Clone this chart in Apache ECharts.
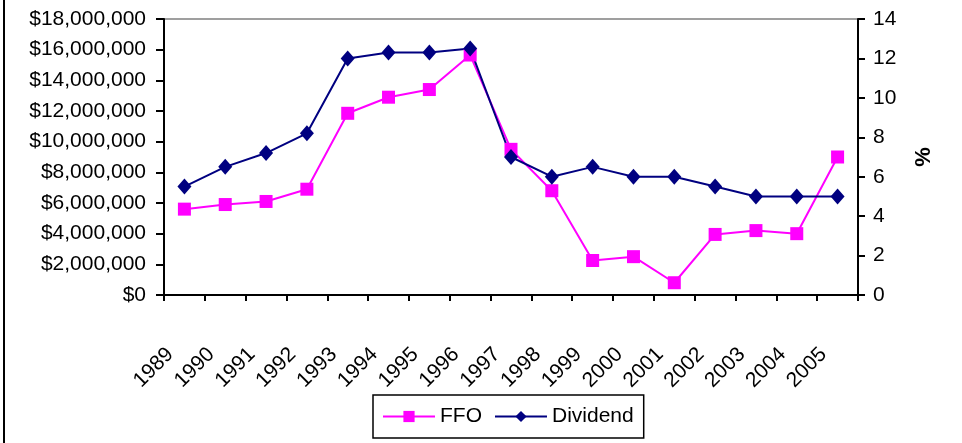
<!DOCTYPE html>
<html>
<head>
  <meta charset="utf-8">
  <title>FFO and Dividend</title>
  <script src="https://cdn.jsdelivr.net/npm/echarts@6/dist/echarts.min.js"></script>
  <style>
    html, body { margin: 0; padding: 0; background: #fff; }
    #wrap { position: relative; width: 962px; height: 443px; }
    #chart { width: 962px; height: 443px; }
    /* chart area frame, only the left edge shows in the picture */
    #frame { position: absolute; left: 3px; top: 0; width: 0; height: 443px; border-left: 2px solid #000; }
  </style>
</head>
<body>
<div id="wrap">
  <div id="chart"></div>
  <div id="frame"></div>
</div>
<script type="text/javascript">
// years on the x axis
var years = ['1989','1990','1991','1992','1993','1994','1995','1996','1997',
             '1998','1999','2000','2001','2002','2003','2004','2005'];
// FFO, dollars (left axis)
var ffo = [5600000, 5900000, 6100000, 6900000, 11850000, 12900000, 13400000, 15650000, 9500000,
           6800000, 2250000, 2500000, 800000, 3950000, 4200000, 4000000, 9000000];
// Dividend, percent (right axis)
var dividend = [5.5, 6.5, 7.2, 8.2, 12, 12.3, 12.3, 12.5, 7,
                6, 6.5, 6, 6, 5.5, 5, 5, 5];

var FONT = 'Liberation Sans, Arial, sans-serif';

var chart = echarts.init(document.getElementById('chart'));

function money(v) {
  return '$' + String(v).replace(/\B(?=(\d{3})+(?!\d))/g, ',');
}

var option = {
  animation: false,
  backgroundColor: '#fff',
  textStyle: { fontFamily: FONT, color: '#000' },
  grid: {
    left: 164, right: 104, top: 19, bottom: 148,
    show: true, borderColor: '#808080', borderWidth: 1.5
  },
  legend: {
    data: ['FFO', 'Dividend'],
    left: 373, top: 395,
    padding: [11, 10, 11, 9],
    itemWidth: 52, itemHeight: 14, itemGap: 12,
    borderColor: '#000', borderWidth: 1.5,
    textStyle: { fontFamily: FONT, fontSize: 21, color: '#000' }
  },
  xAxis: {
    type: 'category',
    data: years,
    boundaryGap: true,
    axisLine: { lineStyle: { color: '#000', width: 2 } },
    axisTick: { show: true, length: 6, lineStyle: { color: '#000', width: 2 } },
    axisLabel: {
      rotate: 45, margin: 42, padding: [0, 20, 0, 0],
      fontFamily: FONT, fontSize: 21, color: '#000', interval: 0
    }
  },
  yAxis: [{
    type: 'value',
    min: 0, max: 18000000, interval: 2000000,
    axisLine: { show: true, lineStyle: { color: '#000', width: 2 } },
    axisTick: { show: true, length: 8, lineStyle: { color: '#000', width: 2 } },
    splitLine: { show: false },
    axisLabel: { margin: 18, fontFamily: FONT, fontSize: 21, color: '#000', formatter: money }
  }, {
    type: 'value',
    position: 'right',
    min: 0, max: 14, interval: 2,
    name: '%',
    nameLocation: 'middle',
    nameGap: 55,
    nameRotate: 90,
    nameTextStyle: { fontFamily: FONT, fontSize: 22, fontWeight: 'bold', color: '#000' },
    axisLine: { show: true, lineStyle: { color: '#000', width: 2 } },
    axisTick: { show: true, length: 7, lineStyle: { color: '#000', width: 2 } },
    splitLine: { show: false },
    axisLabel: { margin: 15, fontFamily: FONT, fontSize: 21, color: '#000' }
  }],
  series: [{
    name: 'FFO',
    type: 'line',
    yAxisIndex: 0,
    data: ffo,
    symbol: 'rect',
    symbolSize: 13,
    itemStyle: { color: '#FF00FF' },
    lineStyle: { color: '#FF00FF', width: 2 }
  }, {
    name: 'Dividend',
    type: 'line',
    yAxisIndex: 1,
    data: dividend,
    symbol: 'diamond',
    symbolSize: [14, 16],
    itemStyle: { color: '#000080' },
    lineStyle: { color: '#000080', width: 2 }
  }]
};

chart.setOption(option);
</script>
</body>
</html>
